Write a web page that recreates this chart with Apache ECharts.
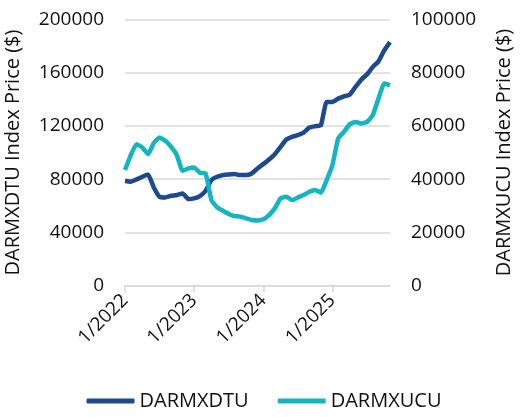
<!DOCTYPE html>
<html>
<head>
<meta charset="utf-8">
<script src="https://cdn.jsdelivr.net/npm/echarts@6/dist/echarts.min.js"></script>
<style>
	html, body { margin: 0; padding: 0; background: #fff; }
	#chart { width: 528px; height: 417px; }
</style>
</head>
<body>
<div id="chart"></div>
<script>
// monthly, Jan 2022 .. Nov 2025
var months = [
	'2022-01', '2022-02', '2022-03', '2022-04', '2022-05', '2022-06', '2022-07', '2022-08', '2022-09', '2022-10', '2022-11', '2022-12',
	'2023-01', '2023-02', '2023-03', '2023-04', '2023-05', '2023-06', '2023-07', '2023-08', '2023-09', '2023-10', '2023-11', '2023-12',
	'2024-01', '2024-02', '2024-03', '2024-04', '2024-05', '2024-06', '2024-07', '2024-08', '2024-09', '2024-10', '2024-11', '2024-12',
	'2025-01', '2025-02', '2025-03', '2025-04', '2025-05', '2025-06', '2025-07', '2025-08', '2025-09', '2025-10', '2025-11'
];

// DARMXDTU (left axis)
var dtu = [
	78500, 78000, 79750, 81750, 83500, 73750, 66750, 66250, 67500, 68000, 69250, 65000,
	65500, 67250, 71250, 79250, 81750, 83000, 83500, 83750, 83000, 83000, 84250, 88000,
	91250, 94750, 98750, 104250, 109750, 111750, 113000, 115000, 118750, 119750, 120500, 138000,
	138000, 140500, 142250, 143500, 149250, 154750, 158750, 164250, 168500, 176750, 183000
];

// DARMXUCU (right axis)
var ucu = [
	43400, 49000, 53100, 51900, 49400, 53600, 55600, 54400, 52100, 49000, 43100, 44000,
	44400, 42400, 42100, 32100, 29400, 28100, 26900, 26100, 25900, 25250, 24600, 24400,
	24900, 26500, 29000, 32750, 33400, 32100, 33100, 34000, 35250, 35900, 34900, 39600,
	45250, 55250, 57750, 60600, 61500, 60900, 61500, 64000, 70250, 75900, 75250
];

var chart = echarts.init(document.getElementById('chart'));

var txt = '#111';
var font = 'Open Sans';

function yearStart(idx) {
	return idx % 12 === 0;
}

function plain(v) {
	return String(v);
}

var option = {
	animation: false,
	textStyle: { fontFamily: font },
	grid: { left: 125, right: 138, top: 19.5, bottom: 131.5, outerBoundsMode: 'none', containLabel: false },
	legend: {
		bottom: 1,
		left: 'center',
		icon: 'roundRect',
		itemWidth: 48,
		itemHeight: 5,
		itemGap: 29,
		textStyle: { color: txt, fontSize: 20, fontFamily: font },
		data: ['DARMXDTU', 'DARMXUCU']
	},
	xAxis: {
		type: 'category',
		data: months,
		boundaryGap: false,
		axisLine: { lineStyle: { color: '#d9d9d9', width: 1.5 } },
		axisTick: { show: true, interval: yearStart, length: 7, lineStyle: { color: '#d9d9d9', width: 1.5 } },
		axisLabel: {
			interval: yearStart,
			rotate: 45,
			margin: 12,
			color: txt,
			fontSize: 19,
			fontFamily: font,
			formatter: function(v) {
				var p = v.split('-');
				return parseInt(p[1], 10) + '/' + p[0];
			}
		},
		splitLine: { show: false }
	},
	yAxis: [{
		type: 'value',
		min: 0,
		max: 200000,
		interval: 40000,
		name: 'DARMXDTU Index Price ($)',
		nameLocation: 'middle',
		nameGap: 102,
		nameTextStyle: { color: txt, fontSize: 20, fontFamily: font },
		axisLine: { show: false },
		axisTick: { show: false },
		axisLabel: { color: txt, fontSize: 19, margin: 21, fontFamily: font, formatter: plain },
		splitLine: { lineStyle: { color: '#d9d9d9', width: 1.5 } }
	}, {
		type: 'value',
		min: 0,
		max: 100000,
		interval: 20000,
		name: 'DARMXUCU Index Price ($)',
		nameLocation: 'middle',
		nameGap: 104,
		nameRotate: 90,
		nameTextStyle: { color: txt, fontSize: 20, fontFamily: font },
		axisLine: { show: false },
		axisTick: { show: false },
		axisLabel: { color: txt, fontSize: 19, margin: 21, fontFamily: font, formatter: plain },
		splitLine: { show: false }
	}],
	series: [{
		name: 'DARMXDTU',
		type: 'line',
		yAxisIndex: 0,
		data: dtu,
		showSymbol: false,
		smooth: 0.15,
		lineStyle: { color: '#1d4a8f', width: 4.5 },
		itemStyle: { color: '#1d4a8f' }
	}, {
		name: 'DARMXUCU',
		type: 'line',
		yAxisIndex: 1,
		data: ucu,
		showSymbol: false,
		smooth: 0.15,
		lineStyle: { color: '#14b4c0', width: 4.5 },
		itemStyle: { color: '#14b4c0' }
	}]
};

chart.setOption(option);
</script>
</body>
</html>
